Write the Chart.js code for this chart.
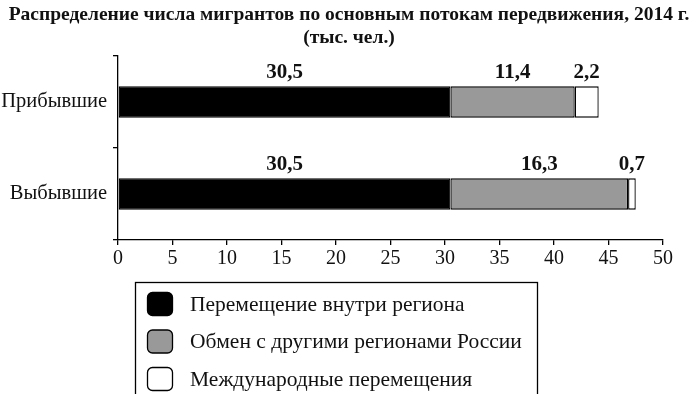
<!DOCTYPE html>
<html>
<head>
<meta charset="utf-8">
<script src="https://cdn.jsdelivr.net/npm/chart.js@4/dist/chart.umd.min.js"></script>
<style>
  html, body { margin: 0; padding: 0; background: #fff; }
  #wrap { width: 696px; height: 394px; position: relative; }
</style>
</head>
<body>
<div id="wrap"><canvas id="migrants"></canvas></div>
<script>
const titleLines = ["Распределение числа мигрантов по основным потокам передвижения, 2014 г.", "(тыс. чел.)"];
const categories = ["Прибывшие", "Выбывшие"];
const seriesNames = ["Перемещение внутри региона", "Обмен с другими регионами России", "Международные перемещения"];
const withinRegion = [30.5, 30.5];
const otherRegions = [11.4, 16.3];
const international = [2.2, 0.7];
const xTicks = [0, 5, 10, 15, 20, 25, 30, 35, 40, 45, 50];

const serif = "'Liberation Serif', 'DejaVu Serif', serif";
const fills = ["#000000", "#999999", "#ffffff"];

// value labels over each segment, "30,5" style
const valueLabels = {
  id: "valueLabels",
  afterDatasetsDraw(chart) {
    const ctx = chart.ctx;
    ctx.save();
    ctx.font = "bold 21px " + serif;
    ctx.fillStyle = "#111";
    ctx.textAlign = "center";
    ctx.textBaseline = "alphabetic";
    chart.data.datasets.forEach((ds, i) => {
      chart.getDatasetMeta(i).data.forEach((bar, j) => {
        const p = bar.getProps(["x", "y", "base", "height"], true);
        const cx = (p.x + p.base) / 2;
        ctx.fillText(ds.data[j].toFixed(1).replace(".", ","), cx, p.y - p.height / 2 - 8);
      });
    });
    ctx.restore();
  }
};

// title on top and boxed legend below the axis
const frame = {
  id: "frame",
  afterDraw(chart) {
    const ctx = chart.ctx;
    ctx.save();
    ctx.fillStyle = "#111";
    ctx.textAlign = "center";
    ctx.textBaseline = "middle";
    ctx.font = "bold 19.5px " + serif;
    ctx.fillText(titleLines[0], 349, 15);
    ctx.fillText(titleLines[1], 349, 38);

    ctx.strokeStyle = "#000";
    ctx.lineWidth = 1.3;
    ctx.strokeRect(135.5, 282.5, 402, 130);

    ctx.font = "21.5px " + serif;
    ctx.textAlign = "left";
    chart.data.datasets.forEach((ds, i) => {
      const y = 292 + i * 37.5;
      ctx.beginPath();
      ctx.roundRect(147.5, y + 0.5, 25, 23, 5);
      ctx.fillStyle = ds.backgroundColor;
      ctx.fill();
      ctx.lineWidth = 1.3;
      ctx.stroke();
      ctx.fillStyle = "#111";
      ctx.fillText(ds.label, 190, y + 13);
    });
    ctx.restore();
  }
};

const datasets = [withinRegion, otherRegions, international].map((vals, i) => ({
  label: seriesNames[i],
  data: vals,
  backgroundColor: fills[i],
  borderColor: "#000",
  borderWidth: 1.3,
  borderSkipped: false,
  barPercentage: 0.34,
  categoryPercentage: 1
}));

new Chart(document.getElementById("migrants"), {
  type: "bar",
  data: { labels: categories, datasets: datasets },
  options: {
    indexAxis: "y",
    responsive: true,
    maintainAspectRatio: false,
    animation: false,
    layout: { padding: { top: 56, right: 33, bottom: 124, left: 0 } },
    plugins: { legend: { display: false }, tooltip: { enabled: false }, title: { display: false } },
    scales: {
      x: {
        stacked: true,
        min: 0,
        max: 50,
        afterBuildTicks(axis) { axis.ticks = xTicks.map(v => ({ value: v })); },
        afterFit(axis) { axis.height = 30; },
        border: { color: "#000", width: 1.3 },
        grid: { drawOnChartArea: false, tickLength: 5, color: "#000", lineWidth: 1.3 },
        ticks: { color: "#111", font: { family: serif, size: 20 }, padding: 2, maxRotation: 0 }
      },
      y: {
        stacked: true,
        afterFit(axis) { axis.width = 118; },
        border: { color: "#000", width: 1.3 },
        grid: { drawOnChartArea: false, tickLength: 5, color: "#000", lineWidth: 1.3 },
        ticks: { color: "#111", font: { family: serif, size: 20.5 }, padding: 6 }
      }
    }
  },
  plugins: [valueLabels, frame]
});
</script>
</body>
</html>
